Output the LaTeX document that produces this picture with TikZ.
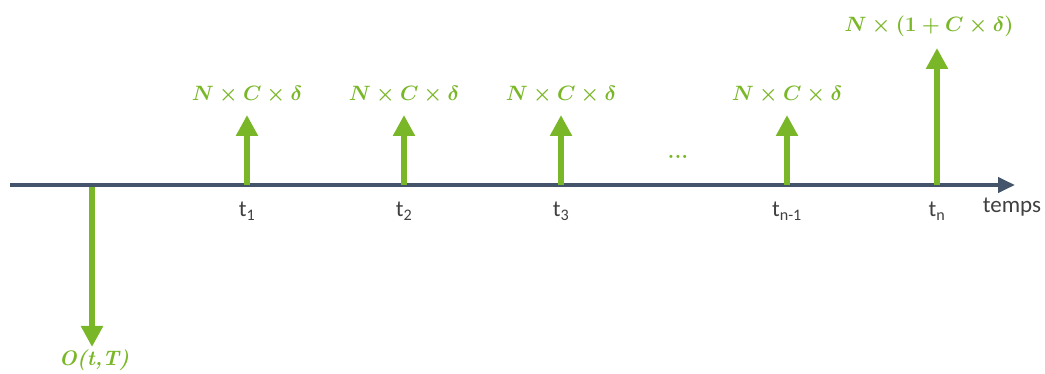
\documentclass[tikz,border=0pt]{standalone}
\usepackage[no-math]{fontspec}
\usepackage{amsmath,amssymb}
\usetikzlibrary{arrows.meta}
\newfontfamily\labelfont{Carlito}
\definecolor{flowgreen}{RGB}{122,183,40}
\definecolor{axisblue}{RGB}{68,84,106}
\definecolor{labelgray}{RGB}{64,64,64}
\begin{document}
\begin{tikzpicture}[x=1pt,y=-1pt,
  axis/.style={line width=4pt,axisblue,-{Triangle[width=15pt,length=17pt]}},
  flow/.style={line width=6pt,flowgreen,-{Triangle[width=21pt,length=21pt]}},
  amount/.style={text=flowgreen,font=\fontsize{21}{24}\selectfont},
  datelabel/.style={text=labelgray,font=\labelfont\fontsize{23}{26}\selectfont}]
  \useasboundingbox (0,0) rectangle (1045,374);
  % time axis
  \coordinate (axl) at (10,185);
  \coordinate (axr) at (1015,185);
  \draw[axis] (axl)--(axr);
  \node[datelabel] (temps) at (1012,207) {temps};
  % coupons
  \foreach \d/\x/\lab in {1/247/1,2/404/2,3/561/3,4/787/{n-1}}{
    \coordinate (d\d) at (\x,185);
    \coordinate (c\d) at (\x,115);
    \draw[flow] (d\d)--(c\d);
    \node[amount] (a\d) at (\x,95) {$\boldsymbol{N\times C\times\delta}$};
    \node[datelabel] (t\d) at (\x,211) {t\textsubscript{\lab}};
  }
  \node[text=flowgreen,font=\fontsize{22}{24}\selectfont] (dots) at (678,157) {\textbf{...}};
  % final flow
  \coordinate (dn) at (937,185);
  \coordinate (cn) at (937,48);
  \draw[flow] (dn)--(cn);
  \node[amount,font=\fontsize{22}{25}\selectfont] (an) at (929,26) {$\boldsymbol{N\times(1+C\times\delta)}$};
  \node[datelabel] (tn) at (937,211) {t\textsubscript{n}};
  % price paid
  \coordinate (d0) at (92,187);
  \coordinate (p0) at (92,347);
  \draw[flow] (d0)--(p0);
  \node[amount] (o0) at (94,360) {\bfseries\itshape O(t,T)};
\end{tikzpicture}
\end{document}
